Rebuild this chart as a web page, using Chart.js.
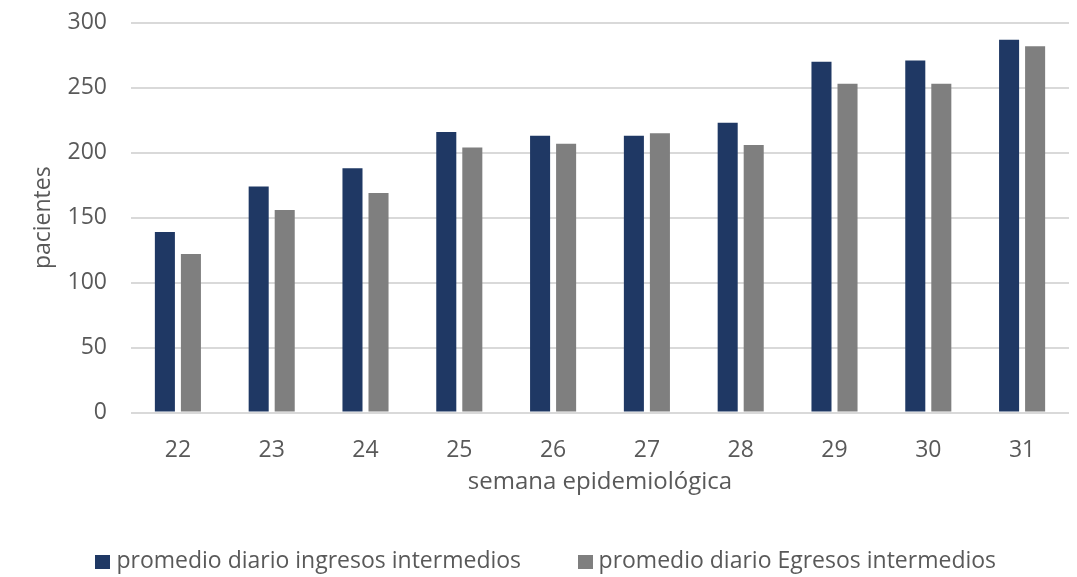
<!DOCTYPE html>
<html>
<head>
<meta charset="utf-8">
<script src="https://cdn.jsdelivr.net/npm/chart.js@4/dist/chart.umd.min.js"></script>
<style>
  html, body { margin: 0; padding: 0; background: #fff; }
  #wrap { width: 1077px; height: 577px; position: relative; }
</style>
</head>
<body>
<div id="wrap"><canvas id="chartSemanas"></canvas></div>
<script>
// semanas epidemiologicas y promedios diarios
const semanas = ['22', '23', '24', '25', '26', '27', '28', '29', '30', '31'];
const ingresos = [139, 174, 188, 216, 213, 213, 223, 270, 271, 287];
const egresos = [122, 156, 169, 204, 207, 215, 206, 253, 253, 282];
const yTicks = [0, 50, 100, 150, 200, 250, 300];

const fuente = "'Open Sans', 'Noto Sans', sans-serif";
const gris = '#595959';
const colores = ['#1f3864', '#7f7f7f'];

// cuadrito de la leyenda, pegado al texto
function cuadro(color) {
  const c = document.createElement('canvas');
  c.width = 15;
  c.height = 14;
  const g = c.getContext('2d');
  g.fillStyle = color;
  g.fillRect(0, 0, 15, 14);
  return c;
}

const ctx = document.getElementById('chartSemanas');
new Chart(ctx, {
  type: 'bar',
  data: {
    labels: semanas,
    datasets: [{
      label: 'promedio diario ingresos intermedios',
      data: ingresos,
      backgroundColor: colores[0]
    }, {
      label: 'promedio diario Egresos intermedios',
      data: egresos,
      backgroundColor: colores[1]
    }]
  },
  options: {
    responsive: true,
    maintainAspectRatio: false,
    animation: false,
    layout: { padding: { top: 0, right: 8, bottom: -6, left: 28 } },
    datasets: {
      bar: { categoryPercentage: 0.555, barPercentage: 0.77 }
    },
    plugins: {
      legend: {
        position: 'bottom',
        labels: {
          font: { family: fuente, size: 23 },
          color: gris,
          usePointStyle: true,
          pointStyleWidth: 4,
          boxHeight: 14,
          padding: 62,
          generateLabels: chart =>
            Chart.defaults.plugins.legend.labels.generateLabels(chart)
              .map((it, i) => ({ ...it, pointStyle: cuadro(colores[i]) }))
        }
      },
      tooltip: { enabled: false }
    },
    scales: {
      x: {
        grid: { display: false },
        border: { display: false },
        ticks: { font: { family: fuente, size: 23 }, color: gris, padding: 16 },
        title: {
          display: true,
          text: 'semana epidemiológica',
          font: { family: fuente, size: 24 },
          color: gris,
          padding: { top: -12, bottom: -9 }
        }
      },
      y: {
        min: 0,
        max: 300,
        afterBuildTicks: scale => { scale.ticks = yTicks.map(v => ({ value: v })); },
        afterFit: scale => { scale.width = 103; },
        grid: { color: '#d9d9d9', lineWidth: 2, drawTicks: true, tickLength: 15, tickColor: 'rgba(0,0,0,0)' },
        border: { display: false },
        ticks: { font: { family: fuente, size: 23 }, color: gris, padding: 9 },
        title: {
          display: true,
          text: 'pacientes',
          font: { family: fuente, size: 23 },
          color: gris,
          padding: { top: 2, bottom: 0 }
        }
      }
    }
  }
});
</script>
</body>
</html>
